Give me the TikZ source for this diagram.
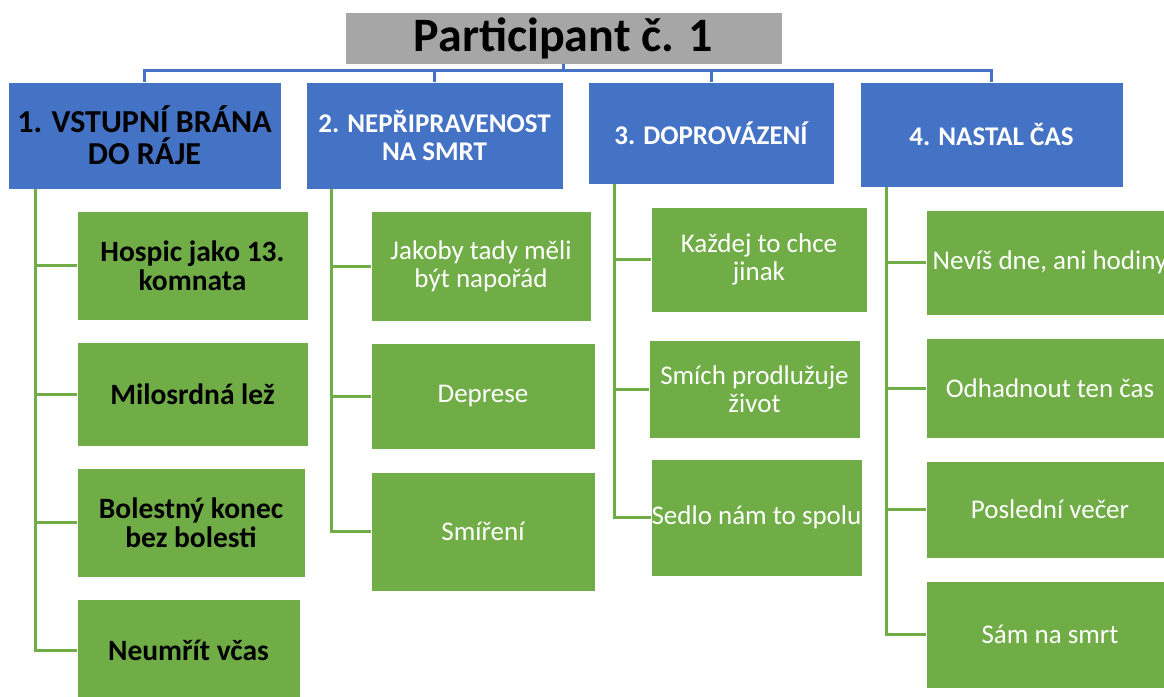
\documentclass[tikz,border=0pt]{standalone}
\usepackage{fontspec}
\setmainfont{Carlito}
\definecolor{tgray}{HTML}{A6A6A6}
\definecolor{oblue}{HTML}{4472C4}
\definecolor{ogreen}{HTML}{70AD47}
\tikzset{
  titlebox/.style={fill=tgray, draw=white, line width=0.8pt, inner sep=0pt, text=black,
    font=\bfseries\fontsize{48}{50}\selectfont},
  bluebox/.style={fill=oblue, draw=white, line width=0.8pt, inner sep=0pt, text=white, align=center,
    font=\bfseries\fontsize{27}{28}\selectfont},
  blueboxk/.style={bluebox, text=black, font=\bfseries\fontsize{32}{32}\selectfont},
  greenbox/.style={fill=ogreen, draw=white, line width=0.8pt, inner sep=0pt, text=white, align=center,
    font=\fontsize{27}{28}\selectfont},
  greenboxk/.style={greenbox, text=black, font=\bfseries\fontsize{29.5}{29}\selectfont},
  bline/.style={draw=oblue, line width=3pt},
  gline/.style={draw=ogreen, line width=3pt}
}
\begin{document}
\begin{tikzpicture}[x=1pt,y=-1pt]
\useasboundingbox[fill=white] (0,0) rectangle (1164,696);
\clip (0,0) rectangle (1164,696);
% title
\node[titlebox, minimum width=437pt, minimum height=52pt] (t) at (563.5,38) {Participant č. 1};
% top level
\node[blueboxk, minimum width=273pt, minimum height=107pt] (b1) at (144.5,135.5) {1. VSTUPNÍ BRÁNA\\DO RÁJE};
\node[bluebox, minimum width=257pt, minimum height=107pt] (b2) at (434.5,135.5) {2. NEPŘIPRAVENOST\\NA SMRT};
\node[bluebox, minimum width=246pt, minimum height=102pt] (b3) at (711,133) {3. DOPROVÁZENÍ};
\node[bluebox, minimum width=263pt, minimum height=105pt] (b4) at (991.5,134.5) {4. NASTAL ČAS};
% group 1
\node[greenboxk, minimum width=231pt, minimum height=109pt] (g1a) at (192.5,265.5) {Hospic jako 13.\\komnata};
\node[greenboxk, minimum width=231pt, minimum height=104pt] (g1b) at (192.5,394) {Milosrdná lež};
\node[greenboxk, minimum width=228pt, minimum height=109pt] (g1c) at (191,522.5) {Bolestný konec\\bez bolesti};
\node[greenboxk, minimum width=223pt, minimum height=102pt] (g1d) at (188.5,650) {Neumřít včas};
% group 2
\node[greenbox, minimum width=220pt, minimum height=110pt] (g2a) at (481,266) {Jakoby tady měli\\být napořád};
\node[greenbox, minimum width=224pt, minimum height=106pt] (g2b) at (483,396) {Deprese};
\node[greenbox, minimum width=224pt, minimum height=119pt] (g2c) at (483,531.5) {Smíření};
% group 3
\node[greenbox, minimum width=216pt, minimum height=105pt] (g3a) at (759,259.5) {Každej to chce\\jinak};
\node[greenbox, minimum width=211pt, minimum height=98pt] (g3b) at (754.5,389) {Smích prodlužuje\\život};
\node[greenbox, minimum width=211pt, minimum height=117pt] (g3c) at (756.5,517.5) {Sedlo nám to spolu};
% group 4
\node[greenbox, minimum width=248pt, minimum height=105pt] (g4a) at (1050,262.5) {Nevíš dne, ani hodiny};
\node[greenbox, minimum width=248pt, minimum height=100pt] (g4b) at (1050,388) {Odhadnout ten čas};
\node[greenbox, minimum width=248pt, minimum height=97pt] (g4c) at (1050,509.5) {Poslední večer};
\node[greenbox, minimum width=248pt, minimum height=107pt] (g4d) at (1050,634.5) {Sám na smrt};
% blue connectors
\coordinate (bus) at (563.5,70);
\draw[bline] (t.south) -- (bus);
\draw[bline] (bus) -| (b1.north);
\draw[bline] (bus) -| (b2.north);
\draw[bline] (bus) -| (b3.north);
\draw[bline] (bus) -| (b4.north);
% green connectors
\coordinate (s1) at (35,189);
\coordinate (s2) at (331,189);
\coordinate (s3) at (614,184);
\coordinate (s4) at (886,187);
\draw[gline] (s1) |- (g1a.west);
\draw[gline] (s1) |- (g1b.west);
\draw[gline] (s1) |- (g1c.west);
\draw[gline] (s1) |- (g1d.west);
\draw[gline] (s2) |- (g2a.west);
\draw[gline] (s2) |- (g2b.west);
\draw[gline] (s2) |- (g2c.west);
\draw[gline] (s3) |- (g3a.west);
\draw[gline] (s3) |- (g3b.west);
\draw[gline] (s3) |- (g3c.west);
\draw[gline] (s4) |- (g4a.west);
\draw[gline] (s4) |- (g4b.west);
\draw[gline] (s4) |- (g4c.west);
\draw[gline] (s4) |- (g4d.west);
\end{tikzpicture}
\end{document}
